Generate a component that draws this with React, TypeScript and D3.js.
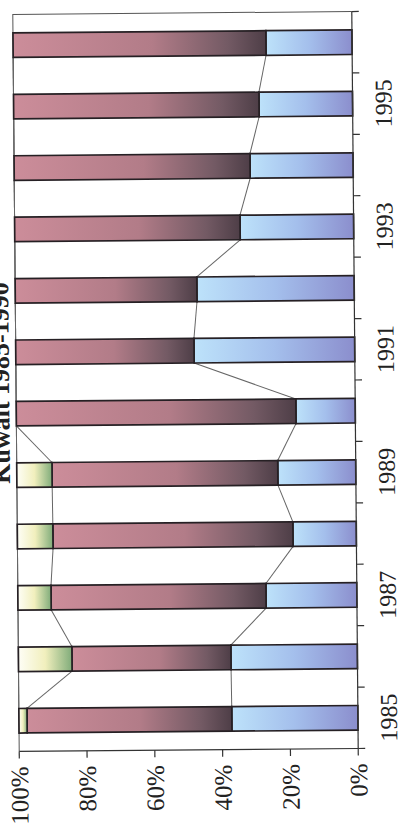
import React from 'react';
import * as d3 from 'd3';

const years = ['1985', '1986', '1987', '1988', '1989', '1990', '1991', '1992', '1993', '1994', '1995', '1996'];
const lowerShare = [37.2, 37.3, 26.8, 18.7, 23.0, 17.5, 47.4, 46.4, 33.5, 30.4, 27.6, 25.4];
const middleShare = [60.4, 46.9, 63.4, 70.8, 66.6, 82.5, 52.6, 53.6, 66.5, 69.6, 72.4, 74.6];
const upperShare = [2.4, 15.8, 9.8, 10.5, 10.4, 0, 0, 0, 0, 0, 0, 0];
const valueTicks = [0, 20, 40, 60, 80, 100];
const labelledYears = ['1985', '1987', '1989', '1991', '1993', '1995'];
const title = 'Kuwait 1985-1990';

const keys = ['lower', 'middle', 'upper'];
const fills: Record<string, string> = { lower: 'url(#gBlue)', middle: 'url(#gMauve)', upper: 'url(#gGreen)' };

export default function App() {
  const W = 828; // original (unrotated) width
  const rows = years.map((y, i) => ({ year: y, lower: lowerShare[i], middle: middleShare[i], upper: upperShare[i] }));
  const stacked = d3.stack<any>().keys(keys)(rows);

  const x = d3.scaleBand<string>().domain(years).range([78, 815]).paddingInner(0.6).paddingOuter(0.3);
  const y = d3.scaleLinear().domain([0, 100]).range([355, 16]);
  const bw = x.bandwidth();
  const font = '"Liberation Serif", "Times New Roman", serif';

  const step = x.step();
  const boundaries = d3.range(years.length + 1).map((k) => 78 + k * step);

  return (
    <svg width={401} height={828} style={{ position: 'absolute', left: 0, top: 0, background: '#fff' }}>
      <defs>
        <linearGradient id="gBlue" x1="0" y1="0" x2="0" y2="1">
          <stop offset="0" stopColor="#bde2fa" />
          <stop offset="0.5" stopColor="#a4bfec" />
          <stop offset="1" stopColor="#8b8ecd" />
        </linearGradient>
        <linearGradient id="gMauve" x1="0" y1="0" x2="0" y2="1">
          <stop offset="0" stopColor="#cc8d9a" />
          <stop offset="0.55" stopColor="#b27c88" />
          <stop offset="0.85" stopColor="#735a64" />
          <stop offset="1" stopColor="#4e3e47" />
        </linearGradient>
        <linearGradient id="gGreen" x1="0" y1="0" x2="0" y2="1">
          <stop offset="0" stopColor="#fefef6" />
          <stop offset="0.5" stopColor="#f1efbd" />
          <stop offset="1" stopColor="#80ac7a" />
        </linearGradient>
      </defs>
      <g transform="rotate(-0.5 185 381)">
        <g transform={`translate(0, ${W}) rotate(-90)`}>
          {/* title */}
          <text x={(78 + 815) / 2} y={9} textAnchor="middle" fontFamily={font} fontWeight="bold" fontSize={26} fill="#222">
            {title}
          </text>
          {/* plot frame */}
          <path d={`M78,16 H815 V355`} fill="none" stroke="#555" strokeWidth={1} />
          {/* series lines */}
          {stacked.map((s) => (
            <g key={'sl' + s.key}>
              {s.slice(0, -1).map((d, i) => {
                const nxt = s[i + 1];
                return (
                  <line
                    key={i}
                    x1={(x(years[i]) as number) + bw}
                    y1={y(d[1])}
                    x2={x(years[i + 1]) as number}
                    y2={y(nxt[1])}
                    stroke="#666"
                    strokeWidth={1}
                  />
                );
              })}
            </g>
          ))}
          {/* bars */}
          {stacked.map((s) => (
            <g key={s.key}>
              {s.map((d, i) =>
                d[1] - d[0] > 0 ? (
                  <rect
                    key={i}
                    x={x(years[i]) as number}
                    y={y(d[1])}
                    width={bw}
                    height={y(d[0]) - y(d[1])}
                    fill={fills[s.key]}
                    stroke="#262024"
                    strokeWidth={1.7}
                  />
                ) : null
              )}
            </g>
          ))}
          {/* category axis */}
          <line x1={78} x2={815} y1={355} y2={355} stroke="#333" strokeWidth={1.2} />
          {boundaries.map((b, k) => (
            <line key={'ct' + k} x1={b} x2={b} y1={355} y2={362} stroke="#333" strokeWidth={1.2} />
          ))}
          {labelledYears.map((yr) => (
            <text
              key={yr}
              x={(x(yr) as number) + bw / 2}
              y={394}
              textAnchor="middle"
              fontFamily={font}
              fontSize={24}
              fill="#222"
            >
              {yr}
            </text>
          ))}
          {/* value axis */}
          <line x1={78} x2={78} y1={16} y2={355} stroke="#333" strokeWidth={1.2} />
          {valueTicks.map((t) => (
            <g key={'vt' + t}>
              <line x1={71} x2={78} y1={y(t)} y2={y(t)} stroke="#333" strokeWidth={1.2} />
              <text x={63} y={y(t)} dy="0.35em" textAnchor="end" fontFamily={font} fontSize={25} fill="#222">
                {t + '%'}
              </text>
            </g>
          ))}
        </g>
      </g>
    </svg>
  );
}
